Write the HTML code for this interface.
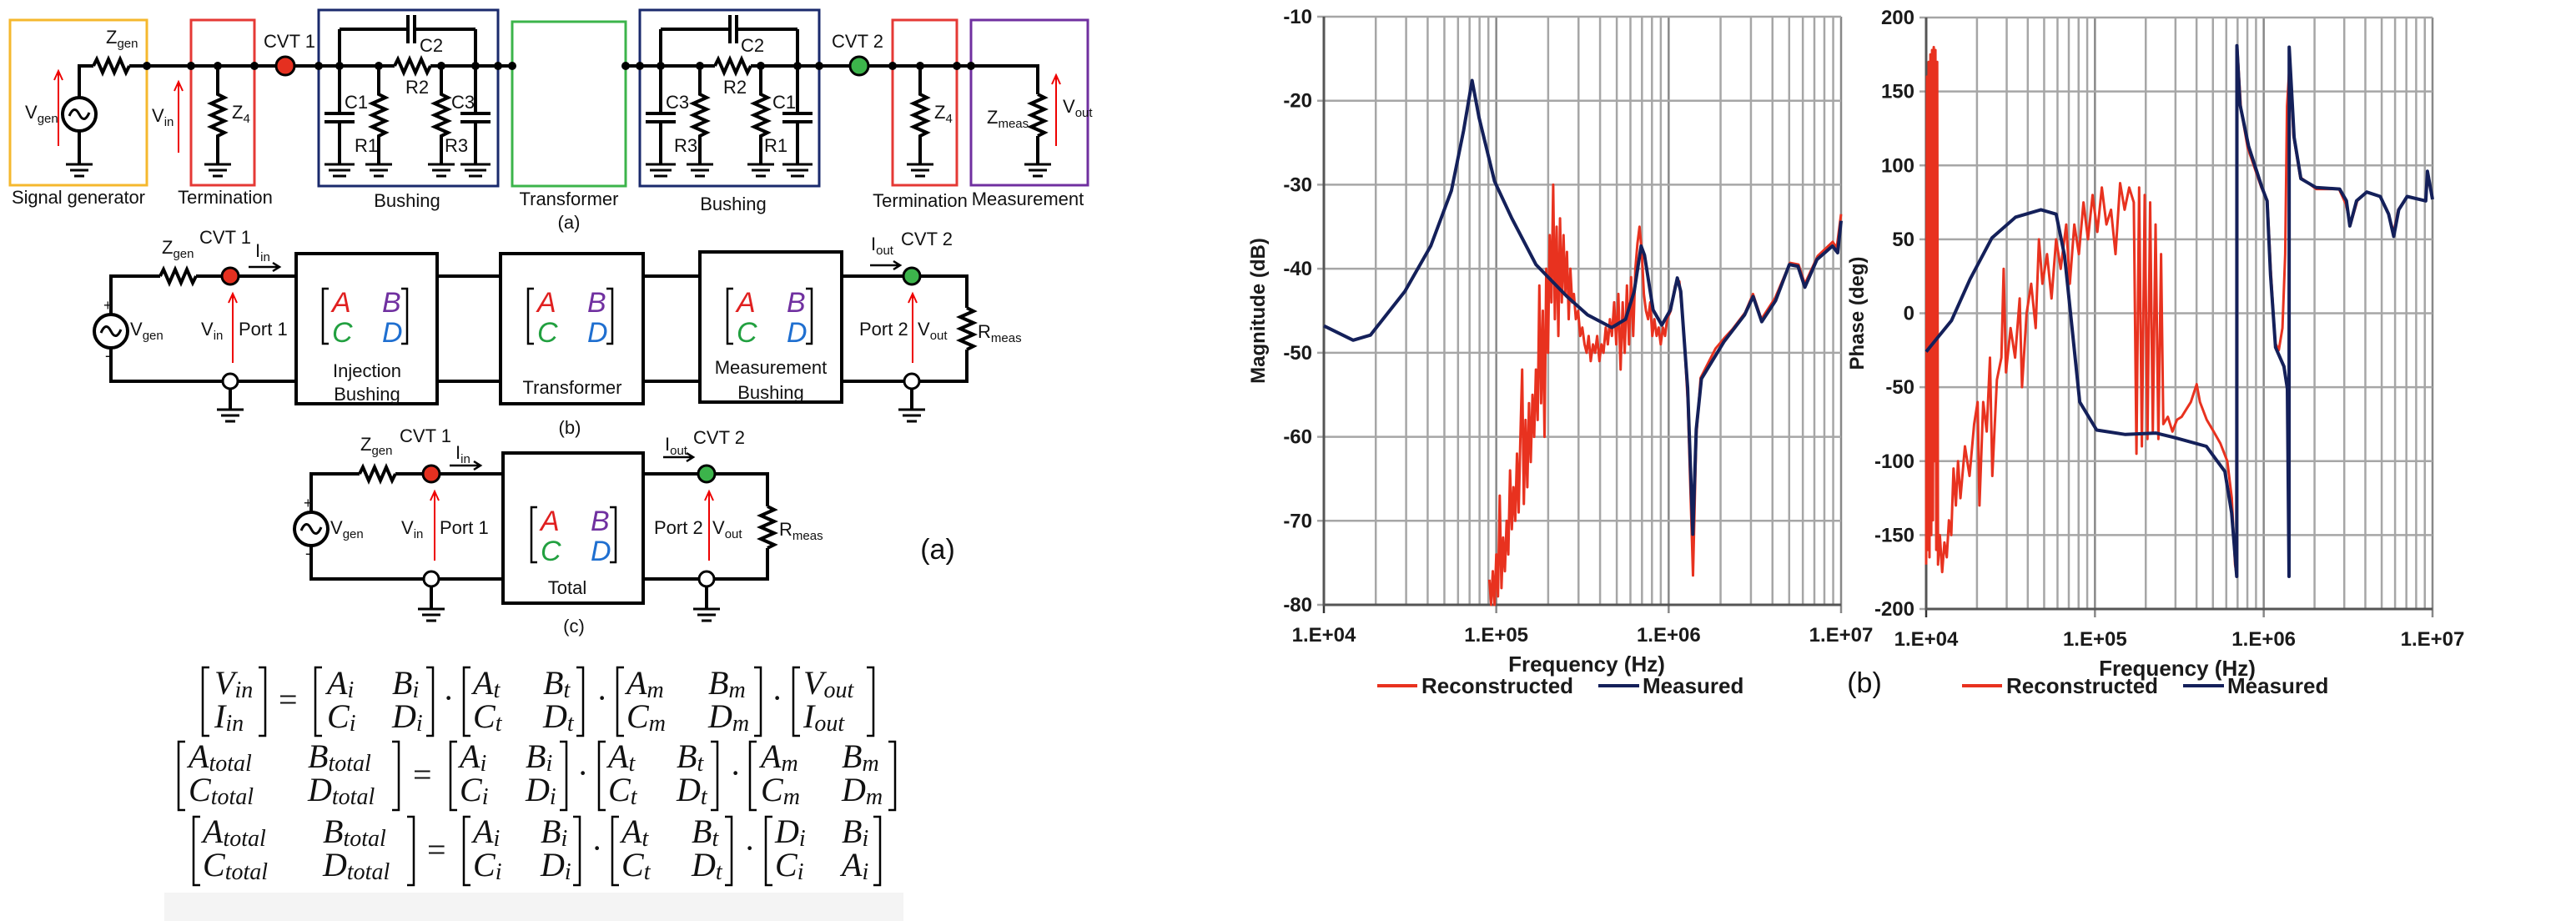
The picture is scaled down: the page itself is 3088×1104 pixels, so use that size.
<!DOCTYPE html>
<html><head><meta charset="utf-8"><style>
html,body{margin:0;padding:0;background:#fff;}
svg{display:block;}
.w{stroke:#000;stroke-width:4;fill:none;}
.t{font-family:"Liberation Sans Narrow","Liberation Sans",sans-serif;fill:#111;}
.m{font-family:"Liberation Serif",serif;font-style:italic;fill:#111;font-size:40px;}
.ms{font-size:28px;}
.ax{font-family:"Liberation Sans",sans-serif;font-weight:bold;fill:#1a1a1a;}
</style></head><body>
<svg id="fig" width="3088" height="1104" viewBox="0 0 3088 1104" xmlns="http://www.w3.org/2000/svg">
<rect width="3088" height="1104" fill="#fff"/>
<!-- ===== circuit (a) ===== -->
<g>
 <rect x="12" y="24" width="164" height="198" fill="none" stroke="#f5b82e" stroke-width="3"/>
 <rect x="229" y="24" width="76" height="198" fill="none" stroke="#e53935" stroke-width="3"/>
 <rect x="382" y="12" width="215" height="211" fill="none" stroke="#1a2a6c" stroke-width="3"/>
 <rect x="614" y="26" width="136" height="197" fill="none" stroke="#3cb44b" stroke-width="3"/>
 <rect x="767" y="12" width="215" height="211" fill="none" stroke="#1a2a6c" stroke-width="3"/>
 <rect x="1070" y="24" width="77" height="198" fill="none" stroke="#e53935" stroke-width="3"/>
 <rect x="1164" y="24" width="140" height="198" fill="none" stroke="#7030a0" stroke-width="3"/>
 <path class="w" d="M95 117 V79 H112 M155 79 H473 M516 79 H614 M750 79 H857 M900 79 H1244 V113 M1244 163 V197"/>
 <path class="w" d="M112 79 l4 -8 l7 16 l7 -16 l7 16 l7 -16 l7 16 l4 -8"/>
 <path class="w" d="M473 79 l4 -8 l7 16 l7 -16 l7 16 l7 -16 l7 16 l4 -8"/>
 <path class="w" d="M857 79 l4 -8 l7 16 l7 -16 l7 16 l7 -16 l7 16 l4 -8"/>
 <circle cx="95" cy="137" r="20" fill="#fff" stroke="#000" stroke-width="4"/>
 <path d="M83 139 q6 -14 12 -2 q6 12 12 -2" fill="none" stroke="#000" stroke-width="3"/>
 <path class="w" d="M95 157 V197"/>
 <!-- vertical branches -->
 <path class="w" d="M261 79 V113 l8 4 l-16 7 l16 7 l-16 7 l16 7 l-16 7 l16 7 l-8 4 V197"/>
 <path class="w" d="M454 79 V113 l8 4 l-16 7 l16 7 l-16 7 l16 7 l-16 7 l16 7 l-8 4 V197"/>
 <path class="w" d="M529 79 V113 l8 4 l-16 7 l16 7 l-16 7 l16 7 l-16 7 l16 7 l-8 4 V197"/>
 <path class="w" d="M839 79 V113 l8 4 l-16 7 l16 7 l-16 7 l16 7 l-16 7 l16 7 l-8 4 V197"/>
 <path class="w" d="M912 79 V113 l8 4 l-16 7 l16 7 l-16 7 l16 7 l-16 7 l16 7 l-8 4 V197"/>
 <path class="w" d="M1103 79 V113 l8 4 l-16 7 l16 7 l-16 7 l16 7 l-16 7 l16 7 l-8 4 V197"/>
 <path class="w" d="M1244 113 l8 4 l-16 7 l16 7 l-16 7 l16 7 l-16 7 l16 7 l-8 4"/>
 <path class="w" d="M407 35 V136 M389 136 h36 M389 146 h36 M407 146 V197"/>
 <path class="w" d="M570 35 V136 M552 136 h36 M552 146 h36 M570 146 V197"/>
 <path class="w" d="M792 35 V136 M774 136 h36 M774 146 h36 M792 146 V197"/>
 <path class="w" d="M956 35 V136 M938 136 h36 M938 146 h36 M956 146 V197"/>
 <path class="w" d="M407 35 H489 M489 18 V52 M497 18 V52 M497 35 H570"/>
 <path class="w" d="M792 35 H875 M875 18 V52 M883 18 V52 M883 35 H956"/>
 <path stroke="#000" stroke-width="3" d="M79 197 h32 M84 204 h22 M89 211 h12 M245 197 h32 M250 204 h22 M255 211 h12 M389 197 h36 M394 204 h26 M399 211 h16 M438 197 h32 M443 204 h22 M448 211 h12 M513 197 h32 M518 204 h22 M523 211 h12 M552 197 h36 M557 204 h26 M562 211 h16 M774 197 h36 M779 204 h26 M784 211 h16 M823 197 h32 M828 204 h22 M833 211 h12 M896 197 h32 M901 204 h22 M906 211 h12 M938 197 h36 M943 204 h26 M948 211 h16 M1087 197 h32 M1092 204 h22 M1097 211 h12 M1228 197 h32 M1233 204 h22 M1238 211 h12"/>
 <g fill="#000"><circle cx="176" cy="79" r="5"/><circle cx="229" cy="79" r="5"/><circle cx="261" cy="79" r="5"/><circle cx="305" cy="79" r="5"/><circle cx="382" cy="79" r="5"/><circle cx="407" cy="79" r="5"/><circle cx="454" cy="79" r="5"/><circle cx="529" cy="79" r="5"/><circle cx="570" cy="79" r="5"/><circle cx="597" cy="79" r="5"/><circle cx="614" cy="79" r="5"/><circle cx="750" cy="79" r="5"/><circle cx="767" cy="79" r="5"/><circle cx="792" cy="79" r="5"/><circle cx="839" cy="79" r="5"/><circle cx="912" cy="79" r="5"/><circle cx="956" cy="79" r="5"/><circle cx="982" cy="79" r="5"/><circle cx="1070" cy="79" r="5"/><circle cx="1103" cy="79" r="5"/><circle cx="1147" cy="79" r="5"/><circle cx="1164" cy="79" r="5"/></g>
 <circle cx="342" cy="79" r="11" fill="#e53020" stroke="#000" stroke-width="3"/>
 <circle cx="1030" cy="79" r="11" fill="#3cb44b" stroke="#000" stroke-width="3"/>
 <path stroke="#e00" stroke-width="2" fill="none" d="M70 175 V86 M65 96 L70 85 L75 96 M214 183 V99 M209 109 L214 98 L219 109 M1266 175 V91 M1261 101 L1266 90 L1271 101"/>
 <g class="t" font-size="22">
  <text x="127" y="52">Z<tspan font-size="15" dy="5">gen</tspan></text>
  <text x="347" y="57" text-anchor="middle">CVT 1</text>
  <text x="1028" y="57" text-anchor="middle">CVT 2</text>
  <text x="30" y="142">V<tspan font-size="15" dy="5">gen</tspan></text>
  <text x="182" y="146">V<tspan font-size="15" dy="5">in</tspan></text>
  <text x="278" y="142">Z<tspan font-size="15" dy="5">4</tspan></text>
  <text x="1120" y="142">Z<tspan font-size="15" dy="5">4</tspan></text>
  <text x="1183" y="148">Z<tspan font-size="15" dy="5">meas</tspan></text>
  <text x="1274" y="135">V<tspan font-size="15" dy="5">out</tspan></text>
  <text x="503" y="62">C2</text><text x="486" y="112">R2</text>
  <text x="413" y="130">C1</text><text x="425" y="182">R1</text>
  <text x="541" y="130">C3</text><text x="533" y="182">R3</text>
  <text x="888" y="62">C2</text><text x="867" y="112">R2</text>
  <text x="798" y="130">C3</text><text x="808" y="182">R3</text>
  <text x="926" y="130">C1</text><text x="916" y="182">R1</text>
  <text x="94" y="244" text-anchor="middle" textLength="160">Signal generator</text>
  <text x="270" y="244" text-anchor="middle">Termination</text>
  <text x="488" y="248" text-anchor="middle">Bushing</text>
  <text x="682" y="246" text-anchor="middle">Transformer</text>
  <text x="879" y="252" text-anchor="middle">Bushing</text>
  <text x="1103" y="248" text-anchor="middle">Termination</text>
  <text x="1232" y="246" text-anchor="middle">Measurement</text>
  <text x="682" y="274" text-anchor="middle">(a)</text>
 </g>
</g>
<!-- ===== circuit (b) ===== -->
<g>
 <path class="w" d="M133 377 V331 H192 M235 331 H355 M524 331 H600 M771 331 H839 M1009 331 H1159 V369 M1159 419 V457 H1009 M839 457 H771 M600 457 H524 M355 457 H133 V417"/>
 <path class="w" d="M192 331 l4 -8 l7 16 l7 -16 l7 16 l7 -16 l7 16 l4 -8"/>
 <path class="w" d="M1159 369 l8 4 l-16 7 l16 7 l-16 7 l16 7 l-16 7 l16 7 l-8 4"/>
 <circle cx="133" cy="397" r="20" fill="#fff" stroke="#000" stroke-width="4"/>
 <path d="M121 399 q6 -14 12 -2 q6 12 12 -2" fill="none" stroke="#000" stroke-width="3"/>
 <text class="t" x="124" y="372" font-size="18">+</text><text class="t" x="126" y="432" font-size="18">-</text>
 <rect x="355" y="304" width="169" height="180" fill="#fff" stroke="#000" stroke-width="4"/>
 <rect x="600" y="304" width="171" height="180" fill="#fff" stroke="#000" stroke-width="4"/>
 <rect x="839" y="302" width="170" height="180" fill="#fff" stroke="#000" stroke-width="4"/>
 <path class="w" d="M276 466 V491 M1093 466 V491"/>
 <path stroke="#000" stroke-width="3" d="M260 491 h32 M265 498 h22 M270 505 h12 M1077 491 h32 M1082 498 h22 M1087 505 h12"/>
 <circle cx="276" cy="457" r="9" fill="#fff" stroke="#000" stroke-width="3"/>
 <circle cx="1093" cy="457" r="9" fill="#fff" stroke="#000" stroke-width="3"/>
 <circle cx="276" cy="331" r="10" fill="#e53020" stroke="#000" stroke-width="3"/>
 <circle cx="1093" cy="331" r="10" fill="#3cb44b" stroke="#000" stroke-width="3"/>
 <path stroke="#e00" stroke-width="2" fill="none" d="M279 435 V353 M274 363 L279 352 L284 363 M1094 435 V353 M1089 363 L1094 352 L1099 363"/>
 <path stroke="#000" stroke-width="2.5" fill="none" d="M298 320 H334 M327 315 L335 320 L327 325 M1043 318 H1078 M1071 313 L1079 318 L1071 323"/>
 <g class="t" font-size="22">
  <text x="194" y="304">Z<tspan font-size="15" dy="5">gen</tspan></text>
  <text x="270" y="292" text-anchor="middle">CVT 1</text>
  <text x="306" y="308">I<tspan font-size="15" dy="5">in</tspan></text>
  <text x="156" y="402">V<tspan font-size="15" dy="5">gen</tspan></text>
  <text x="241" y="402">V<tspan font-size="15" dy="5">in</tspan></text>
  <text x="286" y="402">Port 1</text>
  <text x="440" y="452" text-anchor="middle">Injection</text>
  <text x="440" y="480" text-anchor="middle">Bushing</text>
  <text x="686" y="472" text-anchor="middle">Transformer</text>
  <text x="924" y="448" text-anchor="middle">Measurement</text>
  <text x="924" y="478" text-anchor="middle">Bushing</text>
  <text x="1044" y="300">I<tspan font-size="15" dy="5">out</tspan></text>
  <text x="1111" y="294" text-anchor="middle">CVT 2</text>
  <text x="1030" y="402">Port 2</text>
  <text x="1100" y="402">V<tspan font-size="15" dy="5">out</tspan></text>
  <text x="1172" y="405">R<tspan font-size="15" dy="5">meas</tspan></text>
  <text x="683" y="520" text-anchor="middle">(b)</text>
 </g>
</g>
<!-- ===== circuit (c) ===== -->
<g>
 <path class="w" d="M373 614 V568 H431 M474 568 H603 M771 568 H920 V607 M920 657 V694 H771 M603 694 H373 V654"/>
 <path class="w" d="M431 568 l4 -8 l7 16 l7 -16 l7 16 l7 -16 l7 16 l4 -8"/>
 <path class="w" d="M920 607 l8 4 l-16 7 l16 7 l-16 7 l16 7 l-16 7 l16 7 l-8 4"/>
 <circle cx="373" cy="634" r="20" fill="#fff" stroke="#000" stroke-width="4"/>
 <path d="M361 636 q6 -14 12 -2 q6 12 12 -2" fill="none" stroke="#000" stroke-width="3"/>
 <text class="t" x="364" y="609" font-size="18">+</text><text class="t" x="366" y="669" font-size="18">-</text>
 <rect x="603" y="543" width="168" height="180" fill="#fff" stroke="#000" stroke-width="4"/>
 <path class="w" d="M517 703 V730 M847 703 V730"/>
 <path stroke="#000" stroke-width="3" d="M501 730 h32 M506 737 h22 M511 744 h12 M831 730 h32 M836 737 h22 M841 744 h12"/>
 <circle cx="517" cy="694" r="9" fill="#fff" stroke="#000" stroke-width="3"/>
 <circle cx="847" cy="694" r="9" fill="#fff" stroke="#000" stroke-width="3"/>
 <circle cx="517" cy="568" r="10" fill="#e53020" stroke="#000" stroke-width="3"/>
 <circle cx="847" cy="568" r="10" fill="#3cb44b" stroke="#000" stroke-width="3"/>
 <path stroke="#e00" stroke-width="2" fill="none" d="M521 672 V590 M516 600 L521 589 L526 600 M850 672 V590 M845 600 L850 589 L855 600"/>
 <path stroke="#000" stroke-width="2.5" fill="none" d="M539 558 H575 M568 553 L576 558 L568 563 M795 548 H830 M823 543 L831 548 L823 553"/>
 <g class="t" font-size="22">
  <text x="432" y="540">Z<tspan font-size="15" dy="5">gen</tspan></text>
  <text x="510" y="530" text-anchor="middle">CVT 1</text>
  <text x="546" y="550">I<tspan font-size="15" dy="5">in</tspan></text>
  <text x="396" y="640">V<tspan font-size="15" dy="5">gen</tspan></text>
  <text x="481" y="640">V<tspan font-size="15" dy="5">in</tspan></text>
  <text x="527" y="640">Port 1</text>
  <text x="680" y="712" text-anchor="middle">Total</text>
  <text x="797" y="540">I<tspan font-size="15" dy="5">out</tspan></text>
  <text x="862" y="532" text-anchor="middle">CVT 2</text>
  <text x="784" y="640">Port 2</text>
  <text x="854" y="640">V<tspan font-size="15" dy="5">out</tspan></text>
  <text x="934" y="642">R<tspan font-size="15" dy="5">meas</tspan></text>
  <text x="688" y="758" text-anchor="middle">(c)</text>
 </g>
 <text x="1124" y="670" font-family="Liberation Sans, sans-serif" font-size="34" fill="#111" text-anchor="middle">(a)</text>
</g>
<!-- ABCD matrices -->
<g font-family="Liberation Sans, sans-serif" font-style="italic" font-size="34">
 <g transform="translate(386,0)"><path d="M8 346 h-7 v66 h7 M95 346 h7 v66 h-7" stroke="#000" stroke-width="2.5" fill="none"/><text x="12" y="374" fill="#e02020">A</text><text x="72" y="374" fill="#7030a0">B</text><text x="12" y="410" fill="#22a040">C</text><text x="72" y="410" fill="#1f6fd0">D</text></g>
 <g transform="translate(632,0)"><path d="M8 346 h-7 v66 h7 M95 346 h7 v66 h-7" stroke="#000" stroke-width="2.5" fill="none"/><text x="12" y="374" fill="#e02020">A</text><text x="72" y="374" fill="#7030a0">B</text><text x="12" y="410" fill="#22a040">C</text><text x="72" y="410" fill="#1f6fd0">D</text></g>
 <g transform="translate(871,0)"><path d="M8 346 h-7 v66 h7 M95 346 h7 v66 h-7" stroke="#000" stroke-width="2.5" fill="none"/><text x="12" y="374" fill="#e02020">A</text><text x="72" y="374" fill="#7030a0">B</text><text x="12" y="410" fill="#22a040">C</text><text x="72" y="410" fill="#1f6fd0">D</text></g>
 <g transform="translate(636,262)"><path d="M8 346 h-7 v66 h7 M95 346 h7 v66 h-7" stroke="#000" stroke-width="2.5" fill="none"/><text x="12" y="374" fill="#e02020">A</text><text x="72" y="374" fill="#7030a0">B</text><text x="12" y="410" fill="#22a040">C</text><text x="72" y="410" fill="#1f6fd0">D</text></g>
</g>
<!-- ===== equations ===== -->
<rect x="197" y="1070" width="886" height="34" fill="#f4f4f4"/>
<g stroke="#000" stroke-width="2.5" fill="none">
 <path d="M251 800 h-8 v82 h8 M310 800 h8 v82 h-8 M386 800 h-8 v82 h8 M511 800 h8 v82 h-8 M564 800 h-8 v82 h8 M691 800 h8 v82 h-8 M748 800 h-8 v82 h8 M904 800 h8 v82 h-8 M959 800 h-8 v82 h8 M1039 800 h8 v82 h-8"/>
 <path d="M222 889 h-8 v82 h8 M470 889 h8 v82 h-8 M548 889 h-8 v82 h8 M671 889 h8 v82 h-8 M726 889 h-8 v82 h8 M852 889 h8 v82 h-8 M907 889 h-8 v82 h8 M1065 889 h8 v82 h-8"/>
 <path d="M240 979 h-8 v82 h8 M488 979 h8 v82 h-8 M564 979 h-8 v82 h8 M687 979 h8 v82 h-8 M742 979 h-8 v82 h8 M869 979 h8 v82 h-8 M926 979 h-8 v82 h8 M1047 979 h8 v82 h-8"/>
</g>
<g class="m">
 <text x="257" y="832">V<tspan class="ms" dy="4">in</tspan></text><text x="257" y="872">I<tspan class="ms" dy="4">in</tspan></text>
 <text x="334" y="852" font-style="normal">=</text>
 <text x="392" y="832">A<tspan class="ms" dy="4">i</tspan></text><text x="470" y="832">B<tspan class="ms" dy="4">i</tspan></text>
 <text x="392" y="872">C<tspan class="ms" dy="4">i</tspan></text><text x="470" y="872">D<tspan class="ms" dy="4">i</tspan></text>
 <text x="531" y="850" font-style="normal">·</text>
 <text x="567" y="832">A<tspan class="ms" dy="4">t</tspan></text><text x="651" y="832">B<tspan class="ms" dy="4">t</tspan></text>
 <text x="567" y="872">C<tspan class="ms" dy="4">t</tspan></text><text x="651" y="872">D<tspan class="ms" dy="4">t</tspan></text>
 <text x="715" y="850" font-style="normal">·</text>
 <text x="751" y="832">A<tspan class="ms" dy="4">m</tspan></text><text x="849" y="832">B<tspan class="ms" dy="4">m</tspan></text>
 <text x="751" y="872">C<tspan class="ms" dy="4">m</tspan></text><text x="849" y="872">D<tspan class="ms" dy="4">m</tspan></text>
 <text x="925" y="850" font-style="normal">·</text>
 <text x="963" y="832">V<tspan class="ms" dy="4">out</tspan></text><text x="963" y="872">I<tspan class="ms" dy="4">out</tspan></text>

 <text x="226" y="920">A<tspan class="ms" dy="4">total</tspan></text><text x="369" y="920">B<tspan class="ms" dy="4">total</tspan></text>
 <text x="226" y="960">C<tspan class="ms" dy="4">total</tspan></text><text x="369" y="960">D<tspan class="ms" dy="4">total</tspan></text>
 <text x="495" y="942" font-style="normal">=</text>
 <text x="551" y="920">A<tspan class="ms" dy="4">i</tspan></text><text x="630" y="920">B<tspan class="ms" dy="4">i</tspan></text>
 <text x="551" y="960">C<tspan class="ms" dy="4">i</tspan></text><text x="630" y="960">D<tspan class="ms" dy="4">i</tspan></text>
 <text x="692" y="940" font-style="normal">·</text>
 <text x="729" y="920">A<tspan class="ms" dy="4">t</tspan></text><text x="811" y="920">B<tspan class="ms" dy="4">t</tspan></text>
 <text x="729" y="960">C<tspan class="ms" dy="4">t</tspan></text><text x="811" y="960">D<tspan class="ms" dy="4">t</tspan></text>
 <text x="875" y="940" font-style="normal">·</text>
 <text x="912" y="920">A<tspan class="ms" dy="4">m</tspan></text><text x="1009" y="920">B<tspan class="ms" dy="4">m</tspan></text>
 <text x="912" y="960">C<tspan class="ms" dy="4">m</tspan></text><text x="1009" y="960">D<tspan class="ms" dy="4">m</tspan></text>

 <text x="243" y="1010">A<tspan class="ms" dy="4">total</tspan></text><text x="387" y="1010">B<tspan class="ms" dy="4">total</tspan></text>
 <text x="243" y="1050">C<tspan class="ms" dy="4">total</tspan></text><text x="387" y="1050">D<tspan class="ms" dy="4">total</tspan></text>
 <text x="512" y="1032" font-style="normal">=</text>
 <text x="567" y="1010">A<tspan class="ms" dy="4">i</tspan></text><text x="648" y="1010">B<tspan class="ms" dy="4">i</tspan></text>
 <text x="567" y="1050">C<tspan class="ms" dy="4">i</tspan></text><text x="648" y="1050">D<tspan class="ms" dy="4">i</tspan></text>
 <text x="709" y="1030" font-style="normal">·</text>
 <text x="745" y="1010">A<tspan class="ms" dy="4">t</tspan></text><text x="829" y="1010">B<tspan class="ms" dy="4">t</tspan></text>
 <text x="745" y="1050">C<tspan class="ms" dy="4">t</tspan></text><text x="829" y="1050">D<tspan class="ms" dy="4">t</tspan></text>
 <text x="892" y="1030" font-style="normal">·</text>
 <text x="929" y="1010">D<tspan class="ms" dy="4">i</tspan></text><text x="1009" y="1010">B<tspan class="ms" dy="4">i</tspan></text>
 <text x="929" y="1050">C<tspan class="ms" dy="4">i</tspan></text><text x="1009" y="1050">A<tspan class="ms" dy="4">i</tspan></text>
</g>
<g id="charts"></g>
</svg>
<script>
// ---------- chart data ----------
const magTicks = [-10,-20,-30,-40,-50,-60,-70,-80];
const phaseTicks = [200,150,100,50,0,-50,-100,-150,-200];
const freqTickLabels = ["1.E+04","1.E+05","1.E+06","1.E+07"];
const freqDecades = [4,5,6,7];
// measured magnitude (log10 f, dB)
const measMagLogF = [4.0,4.17,4.27,4.47,4.62,4.74,4.81,4.86,4.90,4.99,5.09,5.23,5.41,5.53,5.67,5.75,5.80,5.84,5.86,5.91,5.96,6.01,6.05,6.07,6.11,6.14,6.16,6.19,6.32,6.44,6.49,6.54,6.62,6.70,6.75,6.79,6.86,6.95,6.98,7.0];
const measMagDB = [-46.8,-48.5,-47.9,-42.7,-37.3,-30.7,-23.6,-17.6,-22,-29.6,-34,-39.5,-43.3,-45.5,-47,-46,-42.7,-37.3,-38.4,-44.9,-46.7,-44.9,-41.1,-42.7,-54.2,-71.6,-59.1,-53.1,-48.7,-45.5,-43.3,-46.3,-43.8,-39.5,-39.7,-42.2,-38.9,-37.3,-38.1,-34.3];
// reconstructed magnitude
const recMagLogF = [4.96,4.97,4.98,4.99,5.00,5.01,5.02,5.03,5.04,5.05,5.06,5.07,5.08,5.09,5.10,5.11,5.12,5.13,5.14,5.15,5.16,5.17,5.18,5.19,5.20,5.21,5.22,5.23,5.24,5.25,5.26,5.27,5.28,5.29,5.30,5.31,5.32,5.33,5.34,5.35,5.36,5.37,5.38,5.39,5.40,5.41,5.42,5.43,5.44,
 5.450,5.462,5.475,5.487,5.499,5.512,5.524,5.536,5.548,5.561,5.573,5.585,5.598,5.610,5.622,5.635,5.647,5.659,5.671,5.684,5.696,5.708,5.721,5.733,5.745,5.758,5.770,5.782,5.794,5.807,5.819,5.831,5.844,5.856,5.868,5.881,5.893,5.905,5.917,5.930,5.942,5.954,5.967,5.979,5.991,
 6.012,6.037,6.062,6.086,6.111,6.141,6.160,6.185,6.222,6.272,6.321,6.370,6.444,6.489,6.538,6.617,6.704,6.753,6.790,6.864,6.951,6.975,7.0];
const recMagDB = [-77,-80,-76,-80,-74,-79,-67,-78,-72,-76,-70,-74,-64,-71,-66,-70,-62,-69,-60,-52,-68,-58,-66,-56,-63,-55,-60,-52,-58,-42,-56,-45,-60,-40,-50,-36,-44,-30,-46,-35,-48,-34,-44,-36,-43,-38,-46,-40,-44,
 -43,-46,-45,-48,-47,-49,-50,-48,-51,-49,-50,-48,-51,-49,-50,-47,-49,-46,-48,-44,-49,-43,-52,-44,-50,-42,-49,-41,-48,-40,-37,-35,-38,-43,-45,-46,-44,-48,-46,-48,-47,-49,-47,-48,-46,
 -45,-42,-41.5,-47,-56,-76.5,-60,-53,-51.5,-49.5,-48.3,-47.2,-45.2,-43,-46,-43.5,-39.3,-39.5,-41.8,-38.5,-36.8,-37.5,-33.5];
// measured phase
const measPhLogF = [4.0,4.15,4.26,4.39,4.53,4.68,4.77,4.82,4.86,4.91,5.01,5.18,5.36,5.47,5.66,5.77,5.81,5.84,5.841,5.86,5.91,5.99,6.02,6.04,6.07,6.12,6.14,6.15,6.151,6.18,6.22,6.31,6.45,6.49,6.51,6.55,6.61,6.69,6.74,6.77,6.80,6.85,6.96,6.97,7.0];
const measPhDeg = [-26,-5,23,51,65,70,67,39,-5,-60,-79,-82,-81,-84,-90,-107,-135,-178,181,141,113,85,76,26,-23,-36,-51,-178,180,119,91,85,84,76,59,76,82,79,67,52,70,79,76,96,77];
// reconstructed phase
const recPhLogF = [4.000,4.005,4.010,4.015,4.020,4.025,4.030,4.035,4.040,4.045,4.050,4.055,4.060,4.065,4.070,
 4.081,4.095,4.108,4.122,4.135,4.149,4.162,4.176,4.189,4.203,4.230,4.257,4.284,4.305,4.316,4.338,4.359,4.378,4.392,4.419,4.446,4.459,4.473,4.500,4.527,4.554,4.568,4.595,4.622,4.649,4.668,4.689,4.716,4.743,4.770,4.797,4.830,4.851,4.878,4.905,4.932,4.959,4.986,5.014,5.041,5.068,5.095,5.122,5.149,5.176,5.203,5.230,5.246,5.262,5.278,5.295,5.311,5.327,5.343,5.359,5.376,5.392,5.405,5.432,5.459,5.486,5.514,5.541,5.568,5.603,5.622,5.662,5.703,5.743,5.784,5.811,5.830,5.841,5.843,5.865,5.905,5.986,6.022,6.041,6.068,6.089,6.111,6.127,6.138,6.154,6.176,6.216,6.311,6.446,6.486,6.514,6.554,6.608,6.689,6.730,6.770,6.797,6.851,6.959,6.973,7.0];
const recPhDeg = [-170,160,-160,170,-165,175,-150,178,-140,180,-100,178,-160,170,-170,
 -150,-175,-155,-165,-140,-150,-105,-130,-100,-125,-90,-110,-75,-60,-130,-60,-80,-30,-110,-45,-30,30,-40,-10,-30,10,-50,0,20,-10,50,20,40,10,50,30,60,20,60,40,75,50,80,55,85,60,70,40,88,70,85,75,-95,85,-90,80,-85,75,-80,60,-85,40,-75,-70,-80,-72,-70,-65,-60,-48,-60,-72,-80,-88,-100,-125,-170,-178,180,138,112,85,76,30,-20,-25,-10,40,140,170,120,92,84,84,74,60,76,82,79,70,55,70,79,76,94,78];

// ---------- drawing ----------
const NS = "http://www.w3.org/2000/svg";
const root = document.getElementById("charts");
function mk(tag, attrs, parent){ const e=document.createElementNS(NS,tag); for(const k in attrs) e.setAttribute(k,attrs[k]); (parent||root).appendChild(e); return e; }

const magP = {x0:1587,x1:2207,y0:20,y1:725,vmax:-10,vmin:-80};
const phP = {x0:2309,x1:2916,y0:21,y1:730,vmax:200,vmin:-200};
function xs(p,lf){ return p.x0+(lf-4)/3*(p.x1-p.x0); }
function ys(p,v){ return p.y0+(p.vmax-v)/(p.vmax-p.vmin)*(p.y1-p.y0); }

function drawPanel(p, ticks, name, title, rLogF, rVal, mLogF, mVal, titleX, freqCX, legX){
  const g = mk("g",{});
  
  
  // grid
  for(let d=4; d<7; d++){
    for(let k=2;k<=9;k++){
      const x = xs(p, d+Math.log10(k));
      const gl = mk("line",{x1:x,x2:x,y1:p.y0,y2:p.y1,stroke:"#a6a6a6","stroke-width":2.5},g);
      
      
    }
  }
  freqDecades.forEach((d,i)=>{
    const x = xs(p,d);
    const gl = mk("line",{x1:x,x2:x,y1:p.y0,y2:p.y1+10,stroke:i==0?"#333":"#888","stroke-width":2.5},g);
    
    
    const t = mk("text",{x:x,y:p.y1+44,"text-anchor":"middle","font-size":24,class:"ax"},g);
    t.textContent = freqTickLabels[i];
    
    
  });
  ticks.forEach(v=>{
    const y = ys(p,v);
    const gl = mk("line",{x1:p.x0-8,x2:p.x1,y1:y,y2:y,stroke:"#a6a6a6","stroke-width":2.5},g);
    
    
    const t = mk("text",{x:p.x0-14,y:y+8,"text-anchor":"end","font-size":24,class:"ax"},g);
    t.textContent = String(v);
    
    
  });
  const ax = mk("path",{d:`M${p.x0} ${p.y0} V${p.y1} H${p.x1}`,stroke:"#555",fill:"none","stroke-width":3},g);
  
  
  // series
  const rd = rLogF.map((f,i)=>(i?"L":"M")+xs(p,f).toFixed(1)+" "+ys(p,Math.max(p.vmin,Math.min(p.vmax,rVal[i]))).toFixed(1)).join(" ");
  const rl = mk("path",{d:rd,stroke:"#e8321f",fill:"none","stroke-width":3,"stroke-linejoin":"round"},g);
  
  
  const md = mLogF.map((f,i)=>(i?"L":"M")+xs(p,f).toFixed(1)+" "+ys(p,Math.max(p.vmin,Math.min(p.vmax,mVal[i]))).toFixed(1)).join(" ");
  const ml = mk("path",{d:md,stroke:"#14205a",fill:"none","stroke-width":4,"stroke-linejoin":"round"},g);
  
  
  // titles
  const yt = mk("text",{x:0,y:0,transform:`translate(${titleX},${(p.y0+p.y1)/2}) rotate(-90)`,"text-anchor":"middle","font-size":24,class:"ax"},g);
  yt.textContent = title;
  
  
  const xt = mk("text",{x:freqCX,y:p.y1+80,"text-anchor":"middle","font-size":26,class:"ax"},g);
  xt.textContent = "Frequency (Hz)";
  
  
  // legend
  const l1 = mk("line",{x1:legX,x2:legX+48,y1:822,y2:822,stroke:"#e8321f","stroke-width":4},g);
  
  
  const lt1 = mk("text",{x:legX+53,y:831,"font-size":26,class:"ax"},g);
  lt1.textContent = "Reconstructed";
  
  
  const l2 = mk("line",{x1:legX+265,x2:legX+314,y1:822,y2:822,stroke:"#14205a","stroke-width":4},g);
  
  
  const lt2 = mk("text",{x:legX+318,y:831,"font-size":26,class:"ax"},g);
  lt2.textContent = "Measured";
  
  
}
drawPanel(magP, magTicks, "magnitude", "Magnitude (dB)", recMagLogF, recMagDB, measMagLogF, measMagDB, 1516, 1902, 1651);
drawPanel(phP, phaseTicks, "phase", "Phase (deg)", recPhLogF, recPhDeg, measPhLogF, measPhDeg, 2234, 2610, 2352);
const bl = mk("text",{x:2235,y:830,"text-anchor":"middle","font-size":34,"font-family":"Liberation Sans, sans-serif",fill:"#111"});
bl.textContent = "(b)";


</script>
</body></html>
